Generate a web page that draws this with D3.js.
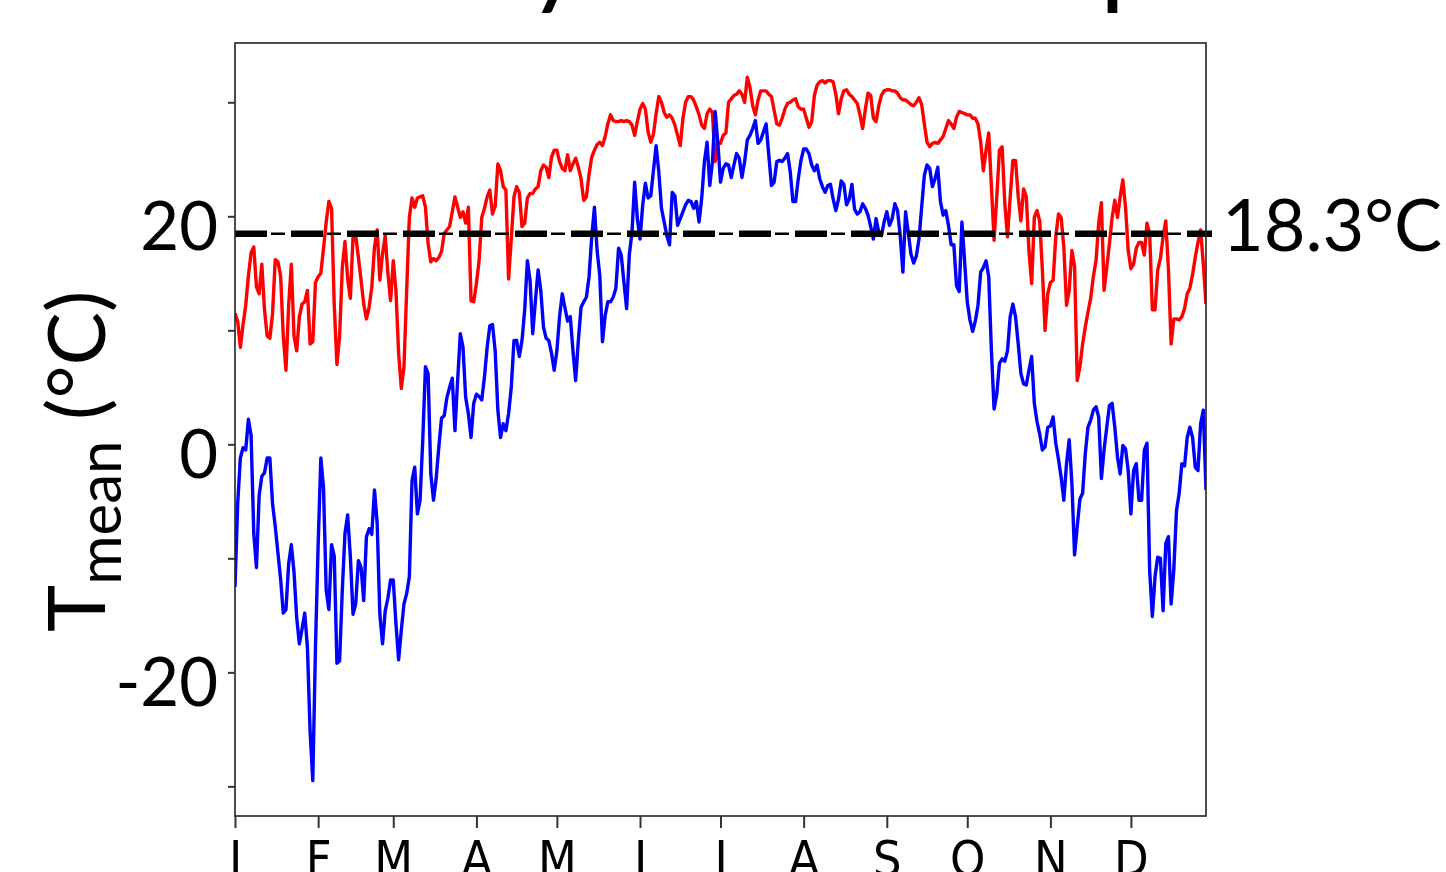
<!DOCTYPE html>
<html>
<head>
<meta charset="utf-8">
<script src="https://cdn.jsdelivr.net/npm/d3@7"></script>
<style>
  html, body { margin: 0; padding: 0; background: #fff; overflow: hidden; }
  svg { display: block; font-family: Lato, "Open Sans", sans-serif; }
</style>
</head>
<body>
<div id="chart"></div>
<script>
// daily mean temperature, index 0 = Jan 1
const tmeanWarm = [
  11.5,10.8,8.5,10.5,12.2,14.8,16.8,17.3,13.8,13.2,
  15.8,11.8,9.5,9.3,11.5,16.2,16,14.8,9.5,6.5,
  12.2,15.8,9.5,8.2,11.2,12.3,12.5,13.5,8.8,9,
  14.2,14.7,15,17.2,19.5,21.3,20.7,12.2,7,9.5,
  15.5,17.8,14.5,12.8,18.2,18.3,16.4,14.4,12.3,11,
  12,13.8,17.3,18.8,14.4,16.7,18.3,15,12.6,16.1,
  13.5,8,4.9,6.8,13.5,19.9,21.6,20.8,21.6,21.7,
  21.8,20.8,17.6,16,16.3,16.1,16.4,16.9,18.5,18.8,
  19.1,20.4,21.7,20.8,19.9,20.4,19.4,20.8,12.6,12.5,
  14.1,16.1,19.9,20.7,21.7,22.3,20.2,20.9,24.6,24,
  22.6,22.3,14.5,18,21.7,22.6,22.1,19.1,19.4,21.6,
  22,22,22.4,22.6,24,24.5,24.3,23.4,25.2,25.8,
  25.8,24.8,24.2,24,25.4,24,24.6,25.1,24.3,23.3,
  21.4,21.7,23.7,25.2,25.8,26.3,26.5,26.2,27,28.1,
  28.9,28.4,28.3,28.3,28.4,28.3,28.4,28.3,28,27.1,
  28.3,29.4,29.9,29.4,27.4,26.5,27.2,29,30.5,30,
  29.1,28.7,28.9,28.6,28,27.1,26.2,28.6,30,30.5,
  30.5,30.2,29.6,28.9,28,27.7,29,29.4,29.1,24.8,
  26.5,26.4,27.1,27.3,30,30.3,30.6,30.7,31,30.7,
  30,32.2,31.3,29.7,28.9,30.2,31,31,31,30.7,
  30.5,29.3,28.1,28,28.6,29.4,29.9,30,30.2,30.3,
  29.6,29.4,29.4,28.6,27.8,28.3,30.6,31.5,31.8,31.9,
  31.7,31.9,31.9,31.8,30.7,29,30.3,31,31.1,30.7,
  30.5,30.2,29.9,28.9,27.7,29.4,30.8,30.6,28.6,28.3,
  29.7,30.6,31,31.1,31.1,31,31,30.8,30.4,30.2,
  30.2,30,29.8,29.7,30,30.4,29.8,28.1,26.5,26.1,
  26.4,26.5,26.4,26.7,27,27.7,28.4,28.1,27.7,28.7,
  29.2,29.1,29,28.9,28.9,28.6,28.6,28.1,26.5,24,
  25.8,27.3,22.6,17.9,21.7,25.8,26.1,21.1,18.2,21.7,
  24.9,24.9,21.7,19.6,22.4,21.7,17,14.1,19.9,20.5,
  19.6,15.3,10,13.2,14.2,14.4,18.2,20.2,19.9,17.3,
  12.2,13.5,17,15.6,5.6,6.8,8.8,10.3,11.6,12.8,
  14.7,16.1,19.4,21.2,13.5,15.5,17.6,19.9,21.4,19.9,
  21.7,23.2,20.8,17,15.4,15.8,17.2,17.7,17.7,16.6,
  19.4,18.5,11.8,11.8,15.3,16.3,18.2,19.6,15.3,8.8,
  11,11,10.9,11.2,11.9,13.2,13.7,14.9,16.4,17.7,
  18.8,15.8,12.3
];

const tmeanCold = [
  -12.5,-5.2,-1.2,-0.3,-0.5,2.2,0.8,-7.8,-10.8,-4.5,
  -2.8,-2.5,-1.2,-1.2,-5.2,-7.2,-9.5,-11.8,-14.8,-14.5,
  -10.5,-8.8,-11.2,-15.2,-17.5,-16.2,-14.8,-17.8,-25.2,-29.5,
  -17.8,-8.8,-1.2,-3.8,-12.8,-14.5,-8.8,-9.8,-19.2,-19,
  -12.8,-7.8,-6.2,-9.8,-14.9,-14,-10.2,-10.8,-13.7,-8.1,
  -7.4,-7.9,-4,-6.9,-14.9,-17.5,-14.6,-13.5,-11.9,-11.9,
  -15.7,-18.9,-16.3,-14,-13.1,-11.6,-3.2,-2,-6.1,-4.9,
  0.4,6.8,6.2,-2.6,-4.9,-3,-0.2,2.3,2.5,4.1,
  5,5.8,1.2,5.6,9.7,8.5,4.1,2.7,0.6,3.6,
  4.4,4.2,3.9,5.9,8.5,10.4,10.5,8.2,3,0.6,
  1.8,1.2,2.7,5,9.1,9.1,7.7,9.1,11.8,16.1,
  14.4,9.7,12.6,15.3,13.5,10.3,9.3,9.1,8,6.5,
  8.2,11.2,13.2,12,10.8,11.2,8.2,5.6,9.1,12,
  12.5,12.9,14.7,18.2,20.8,17,14.8,9,11.3,12.5,
  12.5,12.9,13.7,17.2,16.6,14.2,11.9,16.6,18.6,23,
  19.8,18,21,22.9,21.6,21.8,24,26.2,23.9,20.7,
  19.5,18.3,17.5,22.1,21.8,19.2,19.8,20.4,21,21.4,
  21.3,20.7,21.3,19.5,21.6,24.8,26.5,22.7,24.8,29.2,
  26.5,23,24.2,24.6,24.5,23.4,24.5,25.5,25.1,23.4,
  24.8,26.7,27.1,27.7,28.4,26.4,26.7,27.4,28.1,25.4,
  22.7,23,24.8,24.9,24.8,25.1,25.5,23.9,21.3,21.3,
  23.3,24.9,25.9,25.9,25.5,24.5,24,24.5,23.3,22.6,
  22.1,22.7,22.8,21.5,20.5,21.5,23.1,22.8,21,21.5,
  22.8,20.6,20.2,20.4,21.1,20.7,20.1,19.1,18,19.8,
  18.6,18.3,19.5,20.4,19.2,19.8,21.1,20.5,18.3,15.1,
  20.4,18.6,16.7,15.9,16.5,18,20.8,23.6,24.5,24.2,
  22.6,23.3,24.3,21.3,20.1,20.5,19.2,17.5,17.5,13.9,
  13.4,19.5,16.1,12.5,10.9,9.9,10.8,12.2,15.1,15.5,
  16.1,14.7,8.2,3.1,4.4,7.1,7.5,7.3,8.2,11.2,
  12.3,11.2,8.8,6.2,5.3,5.2,6.5,7.7,3.6,2,
  0.9,-0.5,-0.2,1.5,1.6,2.4,0.1,-1.3,-2.9,-4.9,
  -1.7,0.4,-3.4,-9.7,-7.2,-4.8,-4.3,-0.8,1.5,2.1,
  3,3.3,2.4,-3,-0.5,1.5,3.4,3.6,1.5,-1.1,
  -2.6,-0.1,-0.4,-2.3,-6.1,-2.3,-1.7,-4.9,-4.9,-0.5,
  0.1,-11.1,-15.1,-11.6,-9.9,-10,-14.6,-8.7,-8.1,-14,
  -11,-5.8,-4.3,-1.7,-1.9,0.6,1.5,0.6,-2,-2.3,
  1.8,3,-4
];

const monthStarts = [0, 31, 59, 90, 120, 151, 181, 212, 243, 273, 304, 334];
const monthLabels = ["J", "F", "M", "A", "M", "J", "J", "A", "S", "O", "N", "D"];
const yTicks = [-30, -20, -10, 0, 10, 20, 30];
const yTickLabels = ["", "-20", "", "0", "", "20", ""];
const threshold = 18.3;
const thresholdLabel = "18.3°C";
const titleText = "Daily Mean Temperature";

// Dimensions
const W = 1446, H = 872;
const plot = {left: 235, top: 43, right: 1206, bottom: 816};

const svg = d3.select("#chart")
  .append("svg")
    .attr("width", W)
    .attr("height", H);

// Scales
const x = d3.scaleLinear().domain([0, tmeanWarm.length - 1]).range([plot.left, plot.right]);
const y = d3.scaleLinear().domain([-32.6, 35.2]).range([plot.bottom, plot.top]);

// Title (only its descenders fall inside the picture)
const title = svg.append("text")
  .attr("x", 0)
  .attr("y", 0)
  .style("font-size", "88px")
  .style("fill", "#000")
  .text(titleText);
{
  const node = title.node();
  const iy = titleText.indexOf("y"), ip = titleText.indexOf("p");
  const span = node.getStartPositionOfChar(ip).x - node.getStartPositionOfChar(iy).x;
  const fs = 88 * (1100 - 528) / span;
  title.style("font-size", fs + "px").attr("y", 16 - 0.2 * fs);
  title.attr("x", 528 - node.getStartPositionOfChar(iy).x);
}

// Clip for the data
svg.append("clipPath").attr("id", "plotclip")
  .append("rect")
    .attr("x", plot.left).attr("y", plot.top)
    .attr("width", plot.right - plot.left).attr("height", plot.bottom - plot.top);

const line = d3.line()
  .x((d, i) => x(i))
  .y(d => y(d));

const g = svg.append("g").attr("clip-path", "url(#plotclip)");

g.append("path")
  .datum(tmeanWarm)
  .attr("d", line)
  .attr("fill", "none")
  .attr("stroke", "#ff0000")
  .attr("stroke-width", 3.4)
  .attr("stroke-linejoin", "round");

g.append("path")
  .datum(tmeanCold)
  .attr("d", line)
  .attr("fill", "none")
  .attr("stroke", "#0000ff")
  .attr("stroke-width", 3.4)
  .attr("stroke-linejoin", "round");

// Threshold line: thick dashes with thin dashes between
const yt = y(threshold) - 2;
svg.append("line")
  .attr("x1", plot.left).attr("x2", plot.right + 6)
  .attr("y1", yt).attr("y2", yt)
  .attr("stroke", "#000")
  .attr("stroke-width", 6.5)
  .attr("stroke-dasharray", "32 24");
svg.append("line")
  .attr("x1", plot.left).attr("x2", plot.right + 6)
  .attr("y1", yt).attr("y2", yt)
  .attr("stroke", "#000")
  .attr("stroke-width", 2.5)
  .attr("stroke-dasharray", "0 36 14 6");

svg.append("text")
  .attr("x", 1222)
  .attr("y", yt + 17)
  .style("font-size", "72px")
  .style("fill", "#000")
  .text(thresholdLabel);

// Frame
svg.append("rect")
  .attr("x", plot.left).attr("y", plot.top)
  .attr("width", plot.right - plot.left).attr("height", plot.bottom - plot.top)
  .attr("fill", "none")
  .attr("stroke", "#222")
  .attr("stroke-width", 1.6);

// Y axis
const yAxis = d3.axisLeft(y)
  .tickValues(yTicks)
  .tickSize(7)
  .tickPadding(10)
  .tickFormat((d, i) => yTickLabels[i]);

const gy = svg.append("g")
  .attr("transform", "translate(" + plot.left + ",0)")
  .call(yAxis);
gy.select(".domain").remove();
gy.selectAll(".tick line").attr("stroke", "#333").attr("stroke-width", 2);
gy.selectAll(".tick text")
  .attr("dy", "0.5em")
  .style("font-family", "Lato, 'Open Sans', sans-serif")
  .style("font-size", "67px")
  .style("fill", "#000");

// X axis
const xAxis = d3.axisBottom(x)
  .tickValues(monthStarts)
  .tickSize(12)
  .tickPadding(12)
  .tickFormat((d, i) => monthLabels[i]);

const gx = svg.append("g")
  .attr("transform", "translate(0," + plot.bottom + ")")
  .call(xAxis);
gx.select(".domain").remove();
gx.selectAll(".tick line").attr("stroke", "#333").attr("stroke-width", 2);
gx.selectAll(".tick text")
  .style("font-family", "'Liberation Sans Narrow', 'DejaVu Sans Condensed', 'Liberation Sans', sans-serif")
  .style("font-size", "50px")
  .style("fill", "#000");

// Y label: T_mean (°C)
const ylab = svg.append("text")
  .attr("transform", "translate(105,632) rotate(-90)")
  .style("font-size", "80px")
  .style("fill", "#000");
ylab.append("tspan").text("T");
ylab.append("tspan").attr("dy", 16).style("font-size", "60px").text("mean");
ylab.append("tspan").attr("dy", -16).text(" (°C)");
</script>
</body>
</html>
